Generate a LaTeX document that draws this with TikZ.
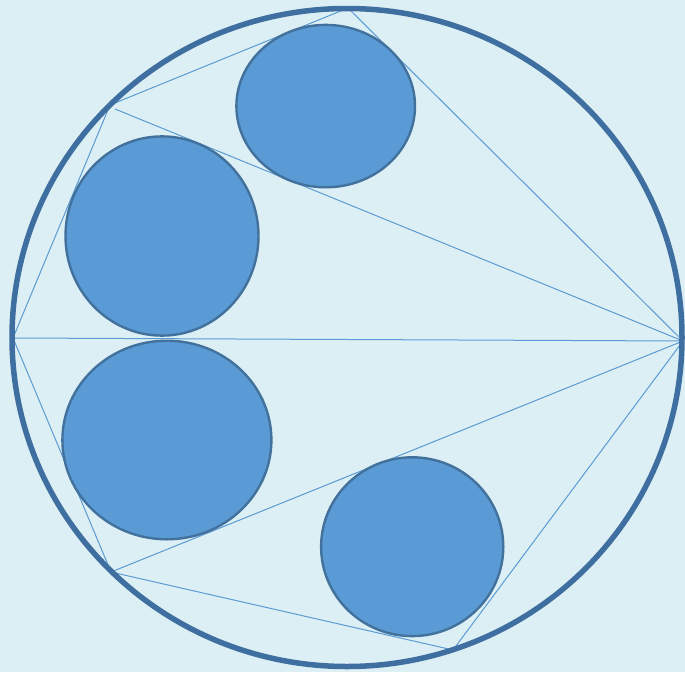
\documentclass[tikz,border=0pt]{standalone}
\definecolor{bgc}{HTML}{DCEFF4}
\definecolor{discfill}{HTML}{5B9BD5}
\definecolor{discedge}{HTML}{41719C}
\definecolor{rimc}{HTML}{3F6FA0}
\definecolor{chordc}{HTML}{5B9BD5}
\begin{document}
\begin{tikzpicture}[x=1pt,y=-1pt,
  chord/.style={draw=chordc,line width=1pt},
  disc/.style={fill=discfill,draw=discedge,line width=2.4pt},
  rim/.style={draw=rimc,line width=5.5pt}]
\fill[bgc] (0,0) rectangle (685,672);
\useasboundingbox (0,0) rectangle (685,672);
% vertices on the rim
\coordinate (T) at (348,8);
\coordinate (UL) at (110,105);
\coordinate (ULb) at (115,109);
\coordinate (L) at (13,338);
\coordinate (R) at (683,341);
\coordinate (LL) at (111,572);
\coordinate (B) at (453,650);
% chords
\draw[chord] (UL) -- (T) -- (R);
\draw[chord] (ULb) -- (R);
\draw[chord] (UL) -- (L) -- (LL);
\draw[chord] (L) -- (R);
\draw[chord] (LL) -- (R);
\draw[chord] (LL) -- (B) -- (R);
% rim
\draw[rim] (347,337.5) ellipse [x radius=335, y radius=329];
% discs
\draw[disc] (325.7,106.1) ellipse [x radius=89.3, y radius=81.2];
\draw[disc] (162,236) ellipse [x radius=96.5, y radius=99.6];
\draw[disc] (166.9,440) ellipse [x radius=104.5, y radius=99.3];
\draw[disc] (412.2,546.7) ellipse [x radius=91.1, y radius=89.4];
\end{tikzpicture}
\end{document}
